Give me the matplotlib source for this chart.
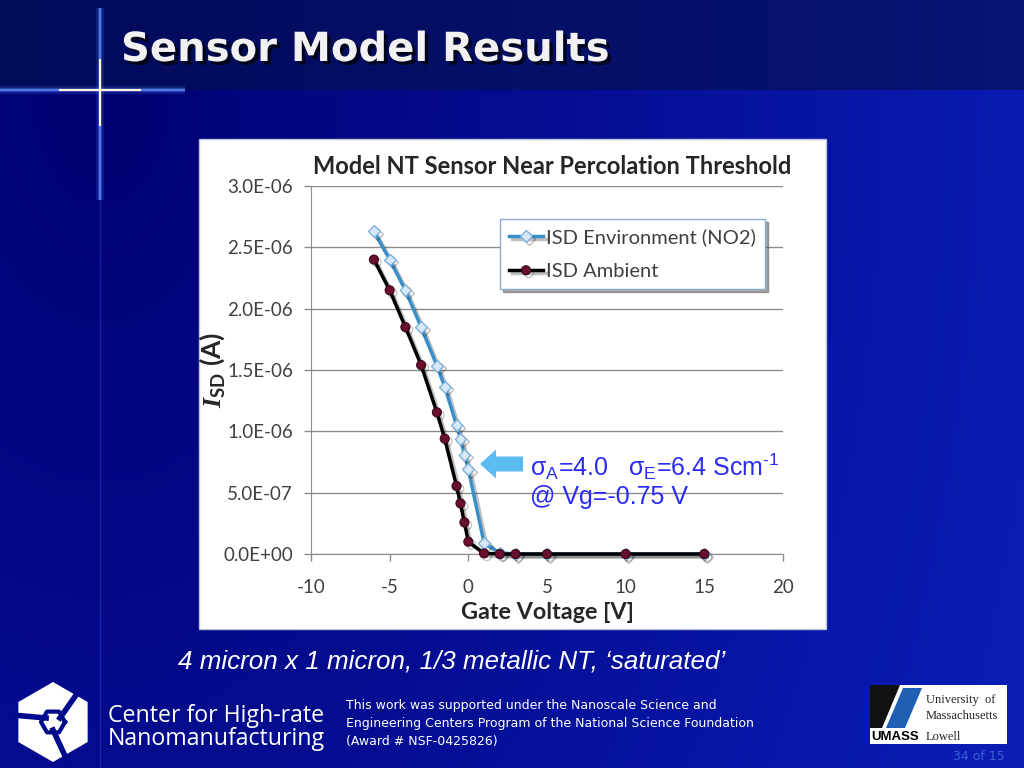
import matplotlib
matplotlib.use("Agg")
import matplotlib.pyplot as plt
import matplotlib.patheffects as pe
from matplotlib.patches import Rectangle, Polygon, FancyArrow
import numpy as np

plt.rcParams['mathtext.fontset'] = 'custom'
plt.rcParams['mathtext.rm'] = 'Liberation Sans'
plt.rcParams['mathtext.it'] = 'Liberation Sans:italic'
plt.rcParams['mathtext.bf'] = 'Lato:bold'
plt.rcParams['mathtext.bfit'] = 'Liberation Serif:italic:bold'

## data
vg = [-6, -5, -4, -3, -2, -1.5, -0.75, -0.5, -0.25, 0, 1, 2, 3, 5, 10, 15]
isd_env = [2.63e-6, 2.40e-6, 2.15e-6, 1.85e-6, 1.535e-6, 1.364e-6, 1.05e-6, 0.94e-6,
           0.81e-6, 0.69e-6, 0.09e-6, 0.01e-6, 0, 0, 0, 0]
isd_amb = [2.40e-6, 2.15e-6, 1.85e-6, 1.54e-6, 1.155e-6, 0.94e-6, 0.554e-6, 0.413e-6,
           0.258e-6, 0.10e-6, 0.005e-6, 0, 0, 0, 0, 0]
xticks = [-10, -5, 0, 5, 10, 15, 20]
yticks = [0, 0.5e-6, 1.0e-6, 1.5e-6, 2.0e-6, 2.5e-6, 3.0e-6]

W, H = 1024, 768
def fx(px):
    return px / W
def fy(py):
    return 1 - py / H

fig = plt.figure(figsize=(10.24, 7.68), dpi=100)

## slide background
bg = fig.add_axes([0, 0, 1, 1])
bg.set_axis_off()
yy, xx = np.mgrid[0:H, 0:W]
c0 = np.array([0x00, 0x00, 0x72]) / 255
c1 = np.array([0x0a, 0x1c, 0xb4]) / 255
t = np.clip(np.hypot(xx - 100, (yy - 90) * 0.6) / 950, 0, 1)[..., None]
img = c0 * (1 - t) + c1 * t
top0 = np.array([0x02, 0x0a, 0x5a]) / 255
top1 = np.array([0x06, 0x14, 0x72]) / 255
tt = (xx / W)[..., None]
top = top0 * (1 - tt) + top1 * tt
img = np.where((yy < 90)[..., None], top, img)
bg.imshow(img, extent=[0, W, H, 0], aspect='auto')
bg.set_xlim(0, W)
bg.set_ylim(H, 0)

## cross decoration
for a, lw in [(0.15, 6), (0.35, 3), (0.9, 1.2)]:
    bg.plot([0, 185], [90, 90], color='#5a8cff', lw=lw, alpha=a, solid_capstyle='butt')
    bg.plot([100, 100], [8, 200], color='#5a8cff', lw=lw, alpha=a, solid_capstyle='butt')
bg.plot([100, 100], [200, 768], color='#3050e0', lw=1, alpha=0.4)
bg.plot([60, 140], [90, 90], color='#fff8d0', lw=1.5)
bg.plot([100, 100], [60, 125], color='#fff8d0', lw=1.5)

## slide title
bg.text(121, 50, 'Sensor Model Results', color='#f2f2f2', fontsize=28.9,
        fontweight='bold', family='DejaVu Sans', va='center', ha='left',
        path_effects=[pe.SimplePatchShadow(offset=(2.5, -2.5), shadow_rgbFace='black', alpha=0.7),
                      pe.Normal()])

## chart box
bg.add_patch(Rectangle((199, 139), 627, 490, facecolor='white', edgecolor='#b8c4d8', lw=1))

## chart
ax = fig.add_axes([fx(311), fy(554), fx(783) - fx(311), fy(186) - fy(554)])
ax.patch.set_visible(False)
shadow = [pe.SimpleLineShadow(offset=(2, -2), alpha=0.25, shadow_color='black'), pe.Normal()]
ax.plot(vg, isd_env, color='#3a8fc8', lw=2.5, marker='D', ms=6, mfc='#d6e8fa',
        mec='#7fb2dc', mew=1, label='ISD Environment (NO2)', clip_on=False,
        path_effects=shadow, zorder=3)
ax.plot(vg, isd_amb, color='black', lw=2.5, marker='o', ms=6.5, mfc='#6a0f2e',
        mec='#3a0818', mew=0.8, label='ISD Ambient', clip_on=False,
        path_effects=shadow, zorder=4)

ax.set_xlim(-10, 20)
ax.set_ylim(0, 3e-6)
ax.set_xticks(xticks)
ax.set_yticks(yticks)
ax.set_yticklabels([f'{v:.1E}' for v in yticks])
ax.set_xticklabels([str(v) for v in xticks])
ax.grid(axis='y', color='#8c8c8c', lw=1)
ax.set_axisbelow(True)
for s in ['top', 'right']:
    ax.spines[s].set_visible(False)
for s in ['left', 'bottom']:
    ax.spines[s].set_color('#8c8c8c')
ax.tick_params(colors='#8c8c8c', labelcolor='#404040', labelsize=13.5, length=5, width=1)
for lab in ax.get_xticklabels() + ax.get_yticklabels():
    lab.set_family('Lato')
ax.tick_params(axis='x', pad=13)
ax.tick_params(axis='y', pad=8)

ax.set_title('Model NT Sensor Near Percolation Threshold', family='Lato', fontweight='bold',
             fontsize=17, color='#262626', pad=9, x=0.51)
ax.set_xlabel('Gate Voltage [V]', family='Lato', fontweight='bold', fontsize=16.8,
              color='#262626', labelpad=4)
ax.set_ylabel(r'$\mathbfit{I}_{\mathbf{SD}}$ (A)', family='Lato', fontweight='bold',
              fontsize=19, color='#262626')
ax.yaxis.set_label_coords((227 - 311) / 472, 0.50)

leg = ax.legend(loc='upper left', bbox_to_anchor=(0.40, 0.91), frameon=True, fancybox=False,
                shadow=True, handlelength=1.7, borderpad=0.45, labelspacing=0.85,
                handletextpad=0.15, borderaxespad=0, prop={'family': 'Lato', 'size': 14.5})
leg.get_frame().set_edgecolor('#8aaccc')
leg.get_frame().set_linewidth(1)
for txt in leg.get_texts():
    txt.set_color('#404040')

## annotation arrow and text on top of the chart
fg = fig.add_axes([0, 0, 1, 1])
fg.set_axis_off()
fg.set_xlim(0, W)
fg.set_ylim(H, 0)
fg.add_patch(FancyArrow(523, 464, -27, 0, width=15, head_width=29, head_length=16,
                        length_includes_head=False, color='#5bbcf2', lw=0))
sig_text = (r'$\mathrm{\sigma}_{\mathrm{A}}$=4.0   $\mathrm{\sigma}_{\mathrm{E}}$=6.4 Scm$^{'
            + '\u2010' + '1}$')
fg.text(530, 467, sig_text, color='#2b2bf5', fontsize=18, family='Liberation Sans',
        va='center', ha='left')
fg.text(530, 497, '@ Vg=-0.75 V', color='#2b2bf5', fontsize=18, family='Liberation Sans',
        va='center', ha='left')

## subtitle
fg.text(178, 662, '4 micron x 1 micron, 1/3 metallic NT, \u2018saturated\u2019', color='white',
        fontsize=18.7, style='italic', family='Liberation Sans', va='center', ha='left')

## CHN logo
cx, cy, r = 53, 722, 40
ang = np.deg2rad(np.arange(6) * 60 + 30)
fg.add_patch(Polygon(np.c_[cx + r * np.cos(ang), cy + r * np.sin(ang)], closed=True,
                     facecolor='white', edgecolor='none'))
for k in range(3):
    a = np.deg2rad(90 + k * 120)
    fg.plot([cx + 8 * np.cos(a), cx + r * np.cos(a - 0.35)],
            [cy + 8 * np.sin(a), cy + r * np.sin(a - 0.35)], color='#000a8c', lw=4)
ang2 = np.deg2rad(np.arange(7) * 60)
fg.plot(cx + 12 * np.cos(ang2), cy + 12 * np.sin(ang2), color='#000a8c', lw=3)
fg.text(108, 716, 'Center for High-rate', color='white', fontsize=16.7, family='Open Sans',
        va='center', ha='left')
fg.text(108, 739, 'Nanomanufacturing', color='white', fontsize=16.7, family='Open Sans',
        va='center', ha='left')

## credit text
fg.text(346, 724, 'This work was supported under the Nanoscale Science and\n'
        'Engineering Centers Program of the National Science Foundation\n'
        '(Award # NSF-0425826)', color='white', fontsize=9, family='DejaVu Sans',
        va='center', ha='left', linespacing=1.5)

## UMASS logo
fg.add_patch(Rectangle((870, 685), 137, 59, facecolor='white', edgecolor='none'))
fg.add_patch(Polygon([(870, 685), (900, 685), (882, 728), (870, 728)], closed=True,
                     facecolor='#111111', edgecolor='none'))
fg.add_patch(Polygon([(903, 688), (922, 688), (905, 728), (886, 728)], closed=True,
                     facecolor='#1f5fb4', edgecolor='none'))
fg.text(871, 737, 'UMASS', color='black', fontsize=9.5, fontweight='bold',
        family='Liberation Sans', va='center', ha='left')
fg.text(926, 700, 'University  of', color='#222222', fontsize=9, family='Liberation Serif',
        va='center', ha='left')
fg.text(926, 716, 'Massachusetts', color='#222222', fontsize=9, family='Liberation Serif',
        va='center', ha='left')
fg.text(926, 737, 'Lowell', color='#222222', fontsize=9, family='Liberation Serif',
        va='center', ha='left')

fg.text(1005, 757, '34 of 15', color='#3a5fd0', fontsize=9, family='DejaVu Sans',
        va='center', ha='right')

fig.savefig('out.png', dpi=100)
